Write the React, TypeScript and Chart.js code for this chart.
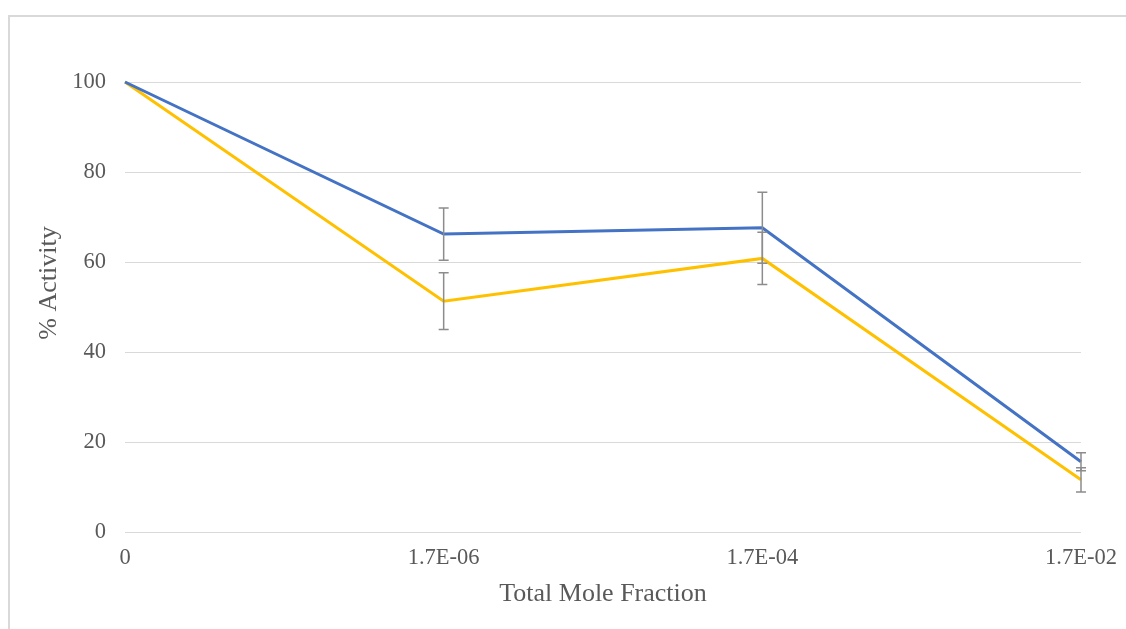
import React, { useEffect, useRef } from "react";
import { Chart, registerables } from "chart.js";

Chart.register(...registerables);

const categories = ["0", "1.7E-06", "1.7E-04", "1.7E-02"];
const seriesBlue = [100, 66.2, 67.6, 15.6];
const seriesBlueErr = [0, 5.8, 7.9, 2.0];
const seriesYellow = [100, 51.3, 60.8, 11.6];
const seriesYellowErr = [0, 6.3, 5.8, 2.7];
const yTicks = [0, 20, 40, 60, 80, 100];
const yTitle = "% Activity";
const xTitle = "Total Mole Fraction";

const errorBars = {
  id: "errorBars",
  afterDatasetsDraw(chart: any) {
    const { ctx, scales } = chart;
    const xs = scales.x;
    const ys = scales.y;
    ctx.save();
    ctx.strokeStyle = "#8c8c8c";
    ctx.lineWidth = 1.5;
    chart.data.datasets.forEach((ds: any) => {
      const errs: number[] = ds.errors || [];
      ds.data.forEach((v: number, i: number) => {
        const e = errs[i];
        if (!e) return;
        const x = xs.getPixelForValue(i);
        const yt = ys.getPixelForValue(v + e);
        const yb = ys.getPixelForValue(v - e);
        ctx.beginPath();
        ctx.moveTo(x, yt);
        ctx.lineTo(x, yb);
        ctx.moveTo(x - 5, yt);
        ctx.lineTo(x + 5, yt);
        ctx.moveTo(x - 5, yb);
        ctx.lineTo(x + 5, yb);
        ctx.stroke();
      });
    });
    ctx.restore();
  },
};

const yTitlePlugin = {
  id: "yTitle",
  afterDraw(chart: any) {
    const { ctx, chartArea } = chart;
    ctx.save();
    ctx.translate(49, chartArea.top + (chartArea.bottom - chartArea.top) / 2 - 24);
    ctx.rotate(-Math.PI / 2);
    ctx.textAlign = "center";
    ctx.textBaseline = "middle";
    ctx.fillStyle = "#595959";
    ctx.font = "26px 'Liberation Serif'";
    ctx.fillText(yTitle, 0, 0);
    ctx.restore();
  },
};

export default function App() {
  const ref = useRef<HTMLCanvasElement>(null);
  useEffect(() => {
    if (!ref.current) return;
    const chart = new Chart(ref.current, {
      type: "line",
      data: {
        labels: categories,
        datasets: [
          {
            label: "Blue",
            data: seriesBlue,
            errors: seriesBlueErr,
            borderColor: "#4472C4",
            backgroundColor: "#4472C4",
            borderWidth: 3,
            pointRadius: 0,
            tension: 0,
            clip: false,
          } as any,
          {
            label: "Yellow",
            data: seriesYellow,
            errors: seriesYellowErr,
            borderColor: "#FFC000",
            backgroundColor: "#FFC000",
            borderWidth: 3,
            pointRadius: 0,
            tension: 0,
            clip: false,
          } as any,
        ],
      },
      options: {
        animation: false,
        responsive: false,
        layout: { padding: { top: 82, right: 45, bottom: 0, left: 0 } },
        plugins: { legend: { display: false }, tooltip: { enabled: false } },
        scales: {
          x: {
            offset: false,
            grid: { display: false, drawTicks: false },
            border: { display: false },
            ticks: {
              color: "#595959",
              font: { family: "Liberation Serif", size: 22.5 },
              padding: 13,
              maxRotation: 0,
              autoSkip: false,
            },
            title: {
              display: true,
              text: xTitle,
              color: "#595959",
              font: { family: "Liberation Serif", size: 26 },
              padding: { top: 0, bottom: 19 },
            },
            afterFit: (s: any) => {
              s.height = 97;
              s.paddingLeft = 0;
              s.paddingRight = 0;
            },
          },
          y: {
            min: 0,
            max: 100,
            afterBuildTicks: (s: any) => {
              s.ticks = yTicks.map((v) => ({ value: v }));
            },
            grid: { color: "#d9d9d9", lineWidth: 1, drawTicks: false },
            border: { display: false },
            ticks: {
              color: "#595959",
              font: { family: "Liberation Serif", size: 22.5 },
              padding: 19,
            },
            title: { display: false },
            afterFit: (s: any) => {
              s.width = 125;
              s.paddingTop = 0;
              s.paddingBottom = 0;
            },
          },
        },
      },
      plugins: [errorBars, yTitlePlugin],
    });
    return () => chart.destroy();
  }, []);

  return (
    <div
      style={{
        position: "fixed",
        left: 0,
        top: 0,
        width: 1126,
        height: 629,
        overflow: "hidden",
        background: "#fff",
      }}
    >
      <div
        style={{
          position: "absolute",
          left: 8,
          top: 15,
          width: 1200,
          height: 700,
          border: "2px solid #d9d9d9",
          boxSizing: "border-box",
        }}
      />
      <canvas
        ref={ref}
        width={1126}
        height={629}
        style={{ position: "absolute", left: 0, top: 0, width: 1126, height: 629 }}
      />
    </div>
  );
}
